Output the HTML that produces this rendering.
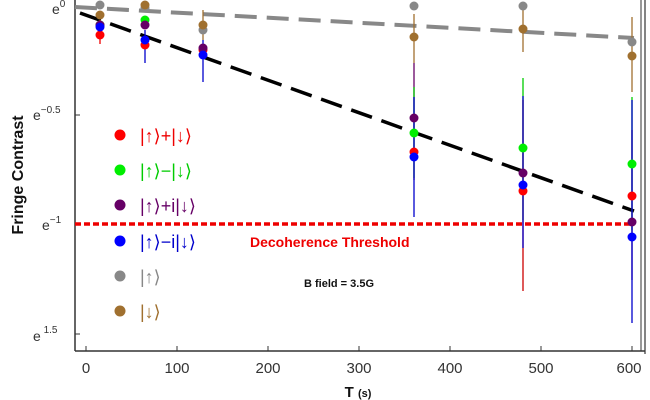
<!DOCTYPE html><html><head><style>body{margin:0;background:#fff}svg{display:block}text{font-family:"Liberation Sans",sans-serif}</style></head><body>
<svg width="650" height="400" viewBox="0 0 650 400">
<rect width="650" height="400" fill="#fff"/>
<line x1="75" y1="0" x2="75" y2="351" stroke="#333" stroke-width="1.5"/>
<line x1="75" y1="351" x2="645" y2="351" stroke="#333" stroke-width="1.5"/>
<line x1="641" y1="0" x2="641" y2="351" stroke="#333" stroke-width="1"/>
<line x1="645" y1="0" x2="645" y2="354" stroke="#333" stroke-width="1.2"/>
<g stroke="#333" stroke-width="1">
<line x1="86" y1="351" x2="86" y2="346"/><line x1="177" y1="351" x2="177" y2="346"/><line x1="268" y1="351" x2="268" y2="346"/><line x1="359" y1="351" x2="359" y2="346"/><line x1="450" y1="351" x2="450" y2="346"/><line x1="541" y1="351" x2="541" y2="346"/><line x1="632" y1="351" x2="632" y2="346"/>
<line x1="75" y1="7" x2="80" y2="7"/><line x1="75" y1="115" x2="80" y2="115"/><line x1="75" y1="224" x2="80" y2="224"/><line x1="75" y1="334" x2="80" y2="334"/>
</g>
<g font-size="15" fill="#333" text-anchor="middle">
<text x="86" y="373">0</text><text x="177" y="373">100</text><text x="268" y="373">200</text><text x="359" y="373">300</text><text x="450" y="373">400</text><text x="541" y="373">500</text><text x="629" y="373">600</text>
</g>
<g font-size="14" fill="#333">
<text x="52" y="14">e<tspan font-size="10" dy="-7">0</tspan></text>
<text x="33" y="120">e<tspan font-size="10" dy="-7">−0.5</tspan></text>
<text x="42" y="230">e<tspan font-size="10" dy="-7">−1</tspan></text>
<text x="33" y="341">e<tspan font-size="10" dy="-8"> 1.5</tspan></text>
</g>
<text transform="translate(23,175) rotate(-90)" font-size="16" font-weight="bold" text-anchor="middle" fill="#111">Fringe Contrast</text>
<text x="358" y="397" font-size="15" font-weight="bold" font-family="Liberation Serif" text-anchor="middle" fill="#111">T <tspan font-size="11">(s)</tspan></text>
<line x1="75" y1="7" x2="634" y2="38" stroke="#888" stroke-width="4" stroke-dasharray="22,10"/>
<line x1="80" y1="13" x2="634" y2="211" stroke="#000" stroke-width="3.5" stroke-dasharray="22,10"/>
<line x1="75" y1="224" x2="634" y2="224" stroke="#e00" stroke-width="3.5" stroke-dasharray="6,3"/>
<g stroke-width="1.3">
<line x1="100" y1="20" x2="100" y2="44" stroke="#e00"/><line x1="145" y1="30" x2="145" y2="63" stroke="#00c"/><line x1="203" y1="40" x2="203" y2="82" stroke="#00c"/><line x1="203" y1="10" x2="203" y2="40" stroke="#a0702f"/>
<line x1="414" y1="14" x2="414" y2="63" stroke="#a0702f"/>
<line x1="414" y1="63" x2="414" y2="180" stroke="#606"/>
<line x1="414" y1="87" x2="414" y2="178" stroke="#0c0"/>
<line x1="414" y1="97" x2="414" y2="217" stroke="#00c"/>
<line x1="523" y1="10" x2="523" y2="52" stroke="#a0702f"/>
<line x1="523" y1="78" x2="523" y2="220" stroke="#0c0"/>
<line x1="523" y1="100" x2="523" y2="291" stroke="#c00"/>
<line x1="523" y1="96" x2="523" y2="248" stroke="#00c"/>
<line x1="632" y1="17" x2="632" y2="92" stroke="#a0702f"/>
<line x1="632" y1="97" x2="632" y2="230" stroke="#0c0"/>
<line x1="632" y1="130" x2="632" y2="280" stroke="#606"/>
<line x1="632" y1="100" x2="632" y2="323" stroke="#00c"/>
</g>
<g>
<circle cx="100" cy="35" r="4.5" fill="#f00"/><circle cx="100" cy="25" r="4.5" fill="#0e0"/><circle cx="100" cy="25" r="4.5" fill="#606"/><circle cx="100" cy="27" r="4.5" fill="#00f"/><circle cx="100" cy="15" r="4.5" fill="#a0702f"/><circle cx="100" cy="5" r="4.5" fill="#888"/>
<circle cx="145" cy="45" r="4.5" fill="#f00"/><circle cx="145" cy="20" r="4.5" fill="#0e0"/><circle cx="145" cy="25" r="4.5" fill="#606"/><circle cx="145" cy="40" r="4.5" fill="#00f"/><circle cx="145" cy="8" r="4.5" fill="#888"/><circle cx="145" cy="5" r="4.5" fill="#a0702f"/>
<circle cx="203" cy="50" r="4.5" fill="#f00"/><circle cx="203" cy="48" r="4.5" fill="#606"/><circle cx="203" cy="55" r="4.5" fill="#00f"/><circle cx="203" cy="30" r="4.5" fill="#888"/><circle cx="203" cy="25" r="4.5" fill="#a0702f"/>
<circle cx="414" cy="6" r="4.5" fill="#888"/><circle cx="414" cy="37" r="4.5" fill="#a0702f"/><circle cx="414" cy="118" r="4.5" fill="#606"/><circle cx="414" cy="133" r="4.5" fill="#0e0"/><circle cx="414" cy="152" r="4.5" fill="#f00"/><circle cx="414" cy="157" r="4.5" fill="#00f"/>
<circle cx="523" cy="6" r="4.5" fill="#888"/><circle cx="523" cy="29" r="4.5" fill="#a0702f"/><circle cx="523" cy="148" r="4.5" fill="#0e0"/><circle cx="523" cy="173" r="4.5" fill="#606"/><circle cx="523" cy="191" r="4.5" fill="#f00"/><circle cx="523" cy="185" r="4.5" fill="#00f"/>
<circle cx="632" cy="42" r="4.5" fill="#888"/><circle cx="632" cy="56" r="4.5" fill="#a0702f"/><circle cx="632" cy="164" r="4.5" fill="#0e0"/><circle cx="632" cy="196" r="4.5" fill="#f00"/><circle cx="632" cy="222" r="4.5" fill="#606"/><circle cx="632" cy="237" r="4.5" fill="#00f"/>
</g>
<g font-size="18" font-family="DejaVu Sans">
<circle cx="120" cy="135" r="5.5" fill="#f00"/><text x="140" y="142" fill="#e00">|↑⟩+|↓⟩</text>
<circle cx="120" cy="170" r="5.5" fill="#0e0"/><text x="140" y="177" fill="#0c0">|↑⟩−|↓⟩</text>
<circle cx="120" cy="205" r="5.5" fill="#606"/><text x="140" y="212" fill="#606">|↑⟩+i|↓⟩</text>
<circle cx="120" cy="241" r="5.5" fill="#00f"/><text x="140" y="248" fill="#00c">|↑⟩−i|↓⟩</text>
<circle cx="120" cy="276" r="5.5" fill="#888"/><text x="140" y="283" fill="#888">|↑⟩</text>
<circle cx="120" cy="311" r="5.5" fill="#a0702f"/><text x="140" y="318" fill="#a0702f">|↓⟩</text>
</g>
<text x="250" y="247" font-size="14" font-weight="bold" fill="#e00">Decoherence Threshold</text>
<text x="304" y="287" font-size="11" font-weight="bold" fill="#111">B  field = 3.5G</text>
</svg></body></html>
